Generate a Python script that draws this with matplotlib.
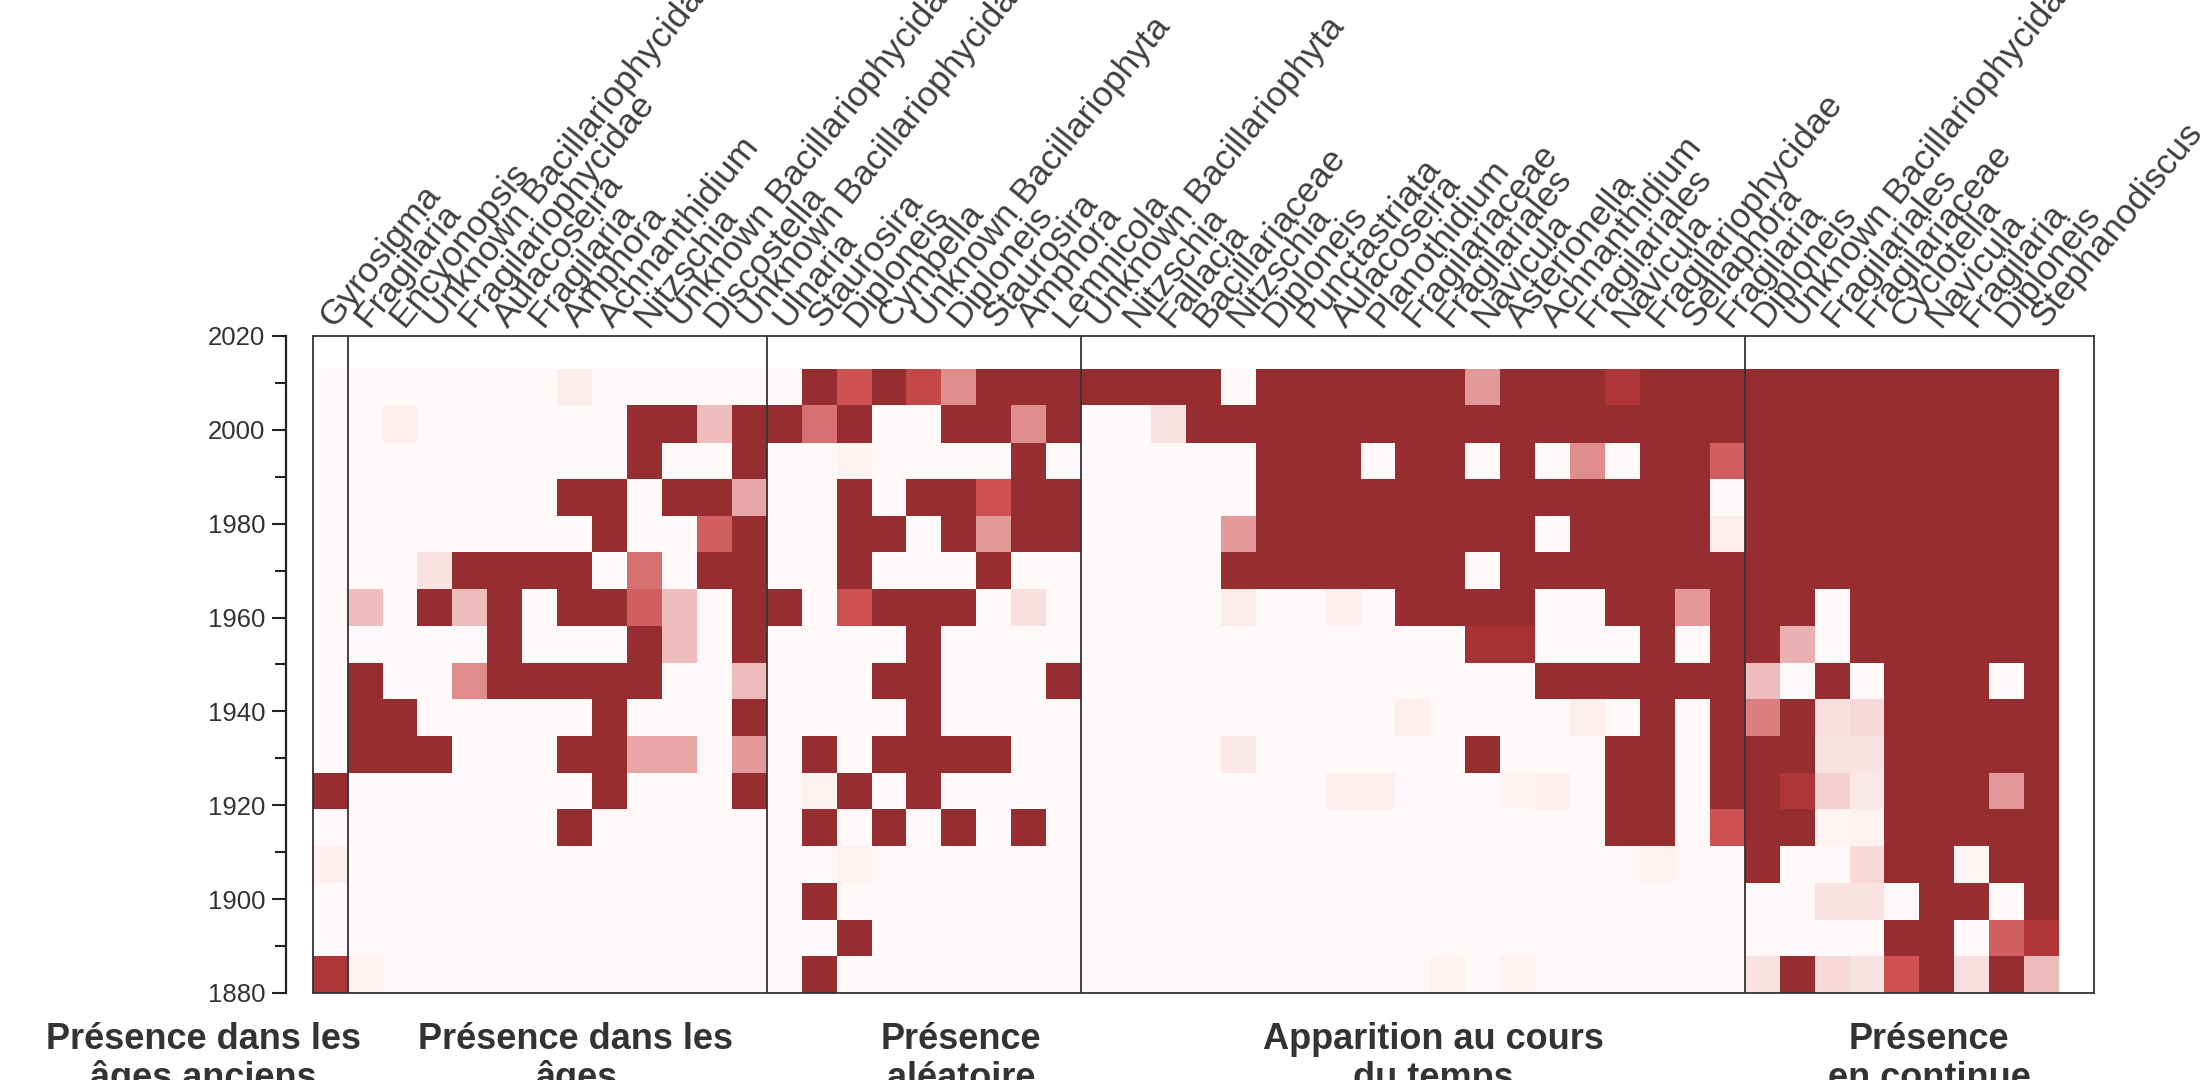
import numpy as np
import matplotlib
matplotlib.use("Agg")
import matplotlib.pyplot as plt
from matplotlib.colors import LinearSegmentedColormap

# taxa, left to right, per group
taxa_ancient = ["Gyrosigma"]
taxa_ages = ["Fragilaria", "Encyonopsis", "Unknown Bacillariophycidae", "Fragilariophycidae",
             "Aulacoseira", "Fragilaria", "Amphora", "Achnanthidium", "Nitzschia",
             "Unknown Bacillariophycidae", "Discostella", "Unknown Bacillariophycidae"]
taxa_random = ["Ulnaria", "Staurosira", "Diploneis", "Cymbella", "Unknown Bacillariophyta",
               "Diploneis", "Staurosira", "Amphora", "Lemnicola"]
taxa_appear = ["Unknown Bacillariophyta", "Nitzschia", "Fallacia", "Bacillariaceae", "Nitzschia",
               "Diploneis", "Punctastriata", "Aulacoseira", "Planothidium", "Fragilariaceae",
               "Fragilariales", "Navicula", "Asterionella", "Achnanthidium", "Fragilariales",
               "Navicula", "Fragilariophycidae", "Sellaphora", "Fragilaria"]
taxa_continuous = ["Diploneis", "Unknown Bacillariophycidae", "Fragilariales", "Fragilariaceae",
                   "Cyclotella", "Navicula", "Fragilaria", "Diploneis", "Stephanodiscus"]

# sediment slices (years), oldest to most recent
year_edges = [1880, 1887.8, 1895.6, 1903.5, 1911.3, 1919.1, 1926.9, 1934.8, 1942.6,
              1950.4, 1958.2, 1966.0, 1973.9, 1981.7, 1989.5, 1997.3, 2005.2, 2013.0]

# relative presence per taxon, one list per taxon, most recent slice first
pres_ancient = [
    [0, 0, 0, 0, 0, 0, 0, 0, 0, 0, 0, 1, 0, .04, 0, 0, .85],
]
pres_ages = [
    [0, 0, 0, 0, 0, 0, .3, 0, 1, 1, 1, 0, 0, 0, 0, 0, .03],
    [0, .05, 0, 0, 0, 0, 0, 0, 0, 1, 1, 0, 0, 0, 0, 0, 0],
    [0, 0, 0, 0, 0, .1, 1, 0, 0, 0, 1, 0, 0, 0, 0, 0, 0],
    [0, 0, 0, 0, 0, 1, .3, 0, .5, 0, 0, 0, 0, 0, 0, 0, 0],
    [0, 0, 0, 0, 0, 1, 1, 1, 1, 0, 0, 0, 0, 0, 0, 0, 0],
    [0, 0, 0, 0, 0, 1, 0, 0, 1, 0, 0, 0, 0, 0, 0, 0, 0],
    [.06, 0, 0, 1, 0, 1, 1, 0, 1, 0, 1, 0, 1, 0, 0, 0, 0],
    [0, 0, 0, 1, 1, 0, 1, 0, 1, 1, 1, 1, 0, 0, 0, 0, 0],
    [0, 1, 1, 0, 0, .6, .65, 1, 1, 0, .4, 0, 0, 0, 0, 0, 0],
    [0, 1, 0, 1, 0, 0, .3, .3, 0, 0, .4, 0, 0, 0, 0, 0, 0],
    [0, .3, 0, 1, .65, 1, 0, 0, 0, 0, 0, 0, 0, 0, 0, 0, 0],
    [0, 1, 1, .4, 1, 1, 1, 1, .3, 1, .45, 1, 0, 0, 0, 0, 0],
]
pres_random = [
    [0, 1, 0, 0, 0, 0, 1, 0, 0, 0, 0, 0, 0, 0, 0, 0, 0],
    [1, .6, 0, 0, 0, 0, 0, 0, 0, 0, 1, .03, 1, 0, 1, 0, 1],
    [.7, 1, .03, 1, 1, 1, .7, 0, 0, 0, 0, 1, 0, .03, 0, 1, 0],
    [1, 0, 0, 0, 1, 0, 1, 0, 1, 0, 1, 0, 1, 0, 0, 0, 0],
    [.75, 0, 0, 1, 0, 0, 1, 1, 1, 1, 1, 1, 0, 0, 0, 0, 0],
    [.5, 1, 0, 1, 1, 0, 1, 0, 0, 0, 1, 0, 1, 0, 0, 0, 0],
    [1, 1, 0, .7, .45, 1, 0, 0, 0, 0, 1, 0, 0, 0, 0, 0, 0],
    [1, .5, 1, 1, 1, 0, .12, 0, 0, 0, 0, 0, 1, 0, 0, 0, 0],
    [1, 1, 0, 1, 1, 0, 0, 0, 1, 0, 0, 0, 0, 0, 0, 0, 0],
]
pres_appear = [
    [1, 0, 0, 0, 0, 0, 0, 0, 0, 0, 0, 0, 0, 0, 0, 0, 0],
    [1, 0, 0, 0, 0, 0, 0, 0, 0, 0, 0, 0, 0, 0, 0, 0, 0],
    [1, .1, 0, 0, 0, 0, 0, 0, 0, 0, 0, 0, 0, 0, 0, 0, 0],
    [1, 1, 0, 0, 0, 0, 0, 0, 0, 0, 0, 0, 0, 0, 0, 0, 0],
    [0, 1, 0, 0, .45, 1, .06, 0, 0, 0, .07, 0, 0, 0, 0, 0, 0],
    [1, 1, 1, 1, 1, 1, 0, 0, 0, 0, 0, 0, 0, 0, 0, 0, 0],
    [1, 1, 1, 1, 1, 1, 0, 0, 0, 0, 0, 0, 0, 0, 0, 0, 0],
    [1, 1, 1, 1, 1, 1, .04, 0, 0, 0, 0, .05, 0, 0, 0, 0, 0],
    [1, 1, 0, 1, 1, 1, 0, 0, 0, 0, 0, .05, 0, 0, 0, 0, 0],
    [1, 1, 1, 1, 1, 1, 1, 0, 0, .04, 0, 0, 0, 0, 0, 0, 0],
    [1, 1, 1, 1, 1, 1, 1, 0, 0, 0, 0, 0, 0, 0, 0, 0, .03],
    [.45, 1, 0, 1, 1, 0, 1, .9, 0, 0, 1, 0, 0, 0, 0, 0, 0],
    [1, 1, 1, 1, 1, 1, 1, .9, 0, 0, 0, .03, 0, 0, 0, 0, .03],
    [1, 1, 0, 1, 0, 1, 0, 0, 1, 0, 0, .05, 0, 0, 0, 0, 0],
    [1, 1, .5, 1, 1, 1, 0, 0, 1, .05, 0, 0, 0, 0, 0, 0, 0],
    [.85, 1, 0, 1, 1, 1, 1, 0, 1, 0, 1, 1, 1, 0, 0, 0, 0],
    [1, 1, 1, 1, 1, 1, 1, 1, 1, 1, 1, 1, 1, .03, 0, 0, 0],
    [1, 1, 1, 1, 1, 1, .45, 0, 1, 0, 0, 0, 0, 0, 0, 0, 0],
    [1, 1, .65, 0, .05, 1, 1, 1, 1, 1, 1, 1, .7, 0, 0, 0, 0],
]
pres_continuous = [
    [1, 1, 1, 1, 1, 1, 1, 1, .3, .55, 1, 1, 1, 1, 0, 0, .1],
    [1, 1, 1, 1, 1, 1, 1, .35, 0, 1, 1, .85, 1, 0, 0, 0, 1],
    [1, 1, 1, 1, 1, 1, 0, 0, 1, .12, .1, .2, .02, 0, .1, 0, .15],
    [1, 1, 1, 1, 1, 1, 1, 1, 0, .15, .1, .08, .03, .15, .1, 0, .1],
    [1, 1, 1, 1, 1, 1, 1, 1, 1, 1, 1, 1, 1, 1, 0, 1, .7],
    [1, 1, 1, 1, 1, 1, 1, 1, 1, 1, 1, 1, 1, 1, 1, 1, 1],
    [1, 1, 1, 1, 1, 1, 1, 1, 1, 1, 1, 1, 1, .02, 1, 0, .12],
    [1, 1, 1, 1, 1, 1, 1, 1, 0, 1, 1, .45, 1, 1, 0, .65, 1],
    [1, 1, 1, 1, 1, 1, 1, 1, 1, 1, 1, 1, 1, 1, 1, .85, .3],
]

group_line1 = ["Présence dans les", "Présence dans les", "Présence", "Apparition au cours", "Présence"]
group_line2 = ["âges anciens", "âges", "aléatoire", "du temps", "en continue"]

plt.rcParams['font.family'] = ['Liberation Sans', 'DejaVu Sans']

taxa = taxa_ancient + taxa_ages + taxa_random + taxa_appear + taxa_continuous
groups = [pres_ancient, pres_ages, pres_random, pres_appear, pres_continuous]
values = np.array(sum(groups, [])).T[::-1]   # rows oldest -> newest

cmap = LinearSegmentedColormap.from_list("pres", [
    (0.0, "#fff8f8"), (0.1, "#f9e2e2"), (0.3, "#efbcbc"), (0.5, "#df8d8e"),
    (0.7, "#cd5052"), (0.85, "#b03538"), (1.0, "#952d31")])

fig = plt.figure(figsize=(22.08, 10.8), dpi=100)
ax = fig.add_axes([0.1416, 0.0806, 0.8068, 0.6083])

ax.pcolormesh(np.arange(len(taxa) + 1), year_edges, values, cmap=cmap, vmin=0, vmax=1,
              shading='flat', antialiased=False, linewidth=0)

ax.set_xlim(0, len(taxa) + 1)
ax.set_ylim(1880, 2020)

# frame and group separators
frame_col = "#333333"
for s in ["top", "right", "bottom"]:
    ax.spines[s].set_color(frame_col)
    ax.spines[s].set_linewidth(1.3)
ax.axvline(0, color=frame_col, lw=1.3, clip_on=False)
bounds = np.cumsum([len(g) for g in groups])[:-1]
for b in bounds:
    ax.axvline(b, color=frame_col, lw=1.3)

ax.spines["left"].set_position(("outward", 19))
ax.spines["left"].set_linewidth(1.6)
ax.spines["left"].set_color("#222222")

ax.set_yticks(np.arange(1880, 2021, 20))
ax.set_yticks(np.arange(1890, 2020, 20), minor=True)
ax.tick_params(axis="y", which="major", length=10, width=1.5, labelsize=18.5, pad=5,
               colors="#222222", labelcolor="#333333")
ax.tick_params(axis="y", which="minor", length=8, width=1.5, colors="#222222")

ax.xaxis.set_ticks_position("top")
ax.set_xticks(np.arange(len(taxa)) + 0.75)
ax.set_xticklabels(taxa, rotation=51, ha="left", va="bottom", rotation_mode="anchor",
                   fontsize=25.5, color="#404040")
ax.tick_params(axis="x", length=0, pad=2)

# group titles under the heatmap
title_x = [203, 576, 961, 1433, 1929]
for x, l1, l2 in zip(title_x, group_line1, group_line2):
    fig.text(x / 2208, 1 - 1049 / 1080, l1, ha="center", va="baseline",
             fontsize=26, fontweight="bold", color="#333333")
    fig.text(x / 2208, 1 - 1088 / 1080, l2, ha="center", va="baseline",
             fontsize=26, fontweight="bold", color="#333333")

fig.savefig("out.png", dpi=100)
